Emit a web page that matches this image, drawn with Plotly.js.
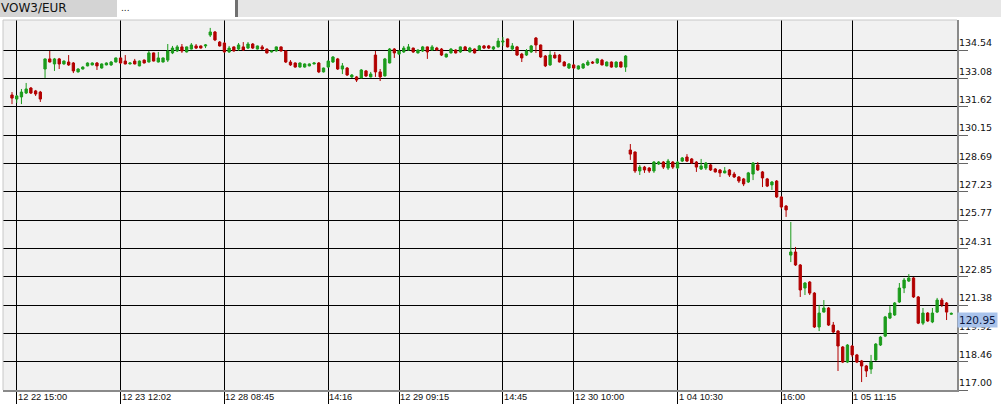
<!DOCTYPE html>
<html>
<head>
<meta charset="utf-8">
<script src="https://cdn.plot.ly/plotly-3.0.1.min.js"></script>
<style>
html,body{margin:0;padding:0;background:#fff;width:1001px;height:415px;overflow:hidden;}
#chart{position:absolute;left:0;top:0;width:1001px;height:415px;}
.hd{position:absolute;top:0;height:17px;}
</style>
</head>
<body>
<div id="chart"></div>
<div class="hd" style="left:0;width:117px;background:#d4d4d4;font:12px 'DejaVu Sans';color:#111;line-height:17px;padding-left:1px;box-sizing:border-box;">VOW3/EUR</div>
<div class="hd" style="left:119px;width:117px;background:#ffffff;font:9px 'DejaVu Sans';color:#222;line-height:17px;padding-left:2px;box-sizing:border-box;">...</div>
<div class="hd" style="left:235px;width:3px;background:#707070;"></div>
<div class="hd" style="left:238px;width:763px;background:#e6e6e6;"></div>
<script>
// ---- data ----
const symbol = "VOW3/EUR";
const openP = [
132.22,132.01,132.12,132.32,132.58,132.43,132.37,133.56,134.08,133.82,
134.08,133.82,133.92,133.87,133.41,133.56,133.72,133.77,133.87,133.61,
133.77,133.77,133.92,134.13,133.97,133.82,133.97,133.72,134.02,133.92,
134.39,133.92,133.92,134.02,134.39,134.49,134.70,134.44,134.59,134.75,
134.75,134.75,135.31,135.47,134.95,134.90,134.44,134.70,134.59,134.70,
134.64,134.85,134.59,134.70,134.59,134.44,134.49,134.70,134.49,133.92,
133.87,133.66,133.66,133.72,133.82,133.87,133.41,133.66,133.92,134.08,
133.56,133.61,133.15,133.15,133.10,133.46,133.15,134.28,133.41,133.20,
133.87,134.59,134.33,134.44,134.54,134.64,134.39,134.49,134.70,134.54,
134.64,134.59,134.18,134.39,134.54,134.44,134.70,134.44,134.59,134.54,
134.75,134.75,134.59,134.70,134.95,135.11,134.59,134.70,134.33,134.28,
134.44,135.16,134.80,134.23,133.77,134.28,134.28,133.92,133.61,133.77,
133.56,133.61,133.77,133.92,133.87,134.02,133.72,133.92,133.66,133.92,
133.66,129.38,129.28,128.30,128.50,128.45,128.30,128.66,128.76,128.45,
128.76,128.45,128.81,129.02,128.92,128.76,128.40,128.45,128.61,128.40,
128.35,128.20,128.35,128.14,127.99,127.89,127.73,128.14,128.61,128.25,
127.89,127.58,127.78,126.96,126.49,123.96,124.12,123.45,122.26,122.57,
122.00,120.25,121.02,121.23,120.35,120.04,119.22,118.44,119.27,118.81,
118.50,118.24,118.08,118.55,119.32,119.78,120.71,120.87,121.54,122.26,
122.62,122.78,121.80,120.45,120.97,120.51,121.02,121.64,121.49,120.91];
const highP = [
132.37,132.22,132.53,132.84,132.63,132.48,132.43,134.10,134.49,134.13,
134.13,134.00,134.28,133.92,133.60,133.70,133.90,133.90,133.92,133.85,
133.90,133.97,134.15,134.15,134.28,133.90,134.08,134.00,134.05,134.49,
134.41,134.44,134.15,134.85,134.75,134.80,134.85,134.72,134.90,134.85,
134.77,134.85,135.68,135.52,135.00,134.95,134.75,134.72,134.90,134.95,
134.95,134.90,134.77,134.80,134.62,134.51,134.72,134.72,134.54,134.02,
133.90,133.90,133.85,133.85,133.90,133.92,133.63,134.00,134.23,134.13,
133.87,133.66,133.30,133.20,133.56,133.51,133.41,134.49,133.56,134.13,
134.64,134.64,134.54,134.75,134.85,134.66,134.57,134.75,134.72,134.80,
134.70,134.64,134.36,134.64,134.57,134.72,134.75,134.70,134.62,134.80,
134.80,134.80,134.75,135.16,135.21,135.13,134.90,134.75,134.39,134.59,
134.80,135.21,134.82,134.28,134.49,134.44,134.33,133.97,133.87,133.82,
133.75,133.87,134.02,133.97,134.10,134.08,133.95,133.95,133.95,133.95,
134.28,129.69,129.30,128.61,128.56,128.50,128.81,128.81,128.81,128.92,
128.81,128.81,129.02,129.17,128.97,128.81,128.92,128.76,128.66,128.45,
128.40,128.50,128.40,128.25,128.04,127.94,128.25,128.76,128.76,128.30,
127.94,127.78,127.83,127.01,126.54,125.67,124.38,123.50,122.57,122.62,
122.05,121.39,121.64,121.28,120.51,120.09,119.27,119.37,119.32,118.86,
118.55,118.29,118.81,119.42,119.78,120.82,121.33,121.54,122.52,122.78,
122.98,122.83,121.85,121.23,121.02,121.23,121.75,121.75,121.54,121.00];
const lowP = [
131.75,131.81,131.75,132.27,132.27,132.17,131.86,133.10,133.90,133.46,
133.56,133.78,133.72,133.35,133.38,133.53,133.70,133.75,133.51,133.58,
133.75,133.72,133.90,133.82,133.80,133.80,133.80,133.70,133.85,133.90,
133.95,133.90,133.90,133.92,134.33,134.44,134.39,134.41,134.57,134.59,
134.62,134.64,135.21,135.00,134.72,134.39,134.39,134.46,134.49,134.49,
134.59,134.59,134.57,134.54,134.36,134.41,134.46,134.46,133.87,133.72,
133.63,133.63,133.63,133.70,133.80,133.35,133.38,133.63,133.87,133.51,
133.30,133.20,133.10,132.89,133.08,133.15,133.13,133.15,132.94,133.18,
133.85,134.13,134.28,134.39,134.49,134.39,134.36,134.44,134.08,134.49,
134.49,134.23,134.15,134.36,134.36,134.39,134.49,134.41,134.36,134.49,
134.59,134.59,134.54,134.67,134.75,134.67,134.49,134.23,133.92,134.23,
134.39,134.39,134.13,133.66,133.72,134.10,133.90,133.70,133.56,133.56,
133.53,133.56,133.72,133.82,133.82,133.75,133.70,133.63,133.63,133.63,
133.41,128.87,128.20,128.09,128.20,128.20,128.20,128.61,128.40,128.35,
128.40,128.40,128.76,128.76,128.66,128.25,128.35,128.35,128.30,128.22,
127.99,128.18,127.99,127.94,127.68,127.52,127.68,127.83,128.30,127.47,
127.47,127.32,126.91,126.34,125.93,123.60,123.40,121.80,121.90,121.90,
120.20,120.04,121.00,120.30,119.94,117.98,118.39,118.39,118.70,118.39,
117.41,117.67,117.83,118.50,119.27,119.73,120.66,120.82,121.49,122.00,
122.57,121.75,120.40,120.35,120.51,120.45,120.97,121.28,120.61,120.88];
const closeP = [
132.06,132.17,132.37,132.53,132.32,132.27,132.01,134.08,133.92,134.08,
133.82,133.97,133.77,133.46,133.56,133.66,133.87,133.87,133.72,133.82,
133.87,133.92,134.13,133.87,133.82,133.87,133.82,133.97,133.87,134.39,
133.97,134.13,134.13,134.49,134.64,134.70,134.49,134.70,134.80,134.64,
134.64,134.80,135.47,135.06,134.75,134.44,134.64,134.49,134.80,134.54,
134.85,134.64,134.75,134.59,134.39,134.49,134.70,134.49,133.92,133.77,
133.66,133.87,133.82,133.82,133.87,133.41,133.61,133.97,134.18,133.56,
133.72,133.25,133.25,132.99,133.51,133.20,133.30,133.41,133.15,134.08,
134.59,134.39,134.49,134.64,134.70,134.44,134.54,134.70,134.44,134.70,
134.54,134.28,134.33,134.59,134.39,134.70,134.54,134.64,134.39,134.75,
134.64,134.64,134.70,135.00,135.00,134.70,134.75,134.28,134.13,134.49,
134.75,134.80,134.18,133.72,134.28,134.13,133.92,133.72,133.82,133.61,
133.72,133.82,133.92,133.87,134.08,133.77,133.92,133.66,133.92,133.66,
134.23,129.17,128.30,128.50,128.35,128.30,128.76,128.76,128.50,128.81,
128.50,128.76,128.97,128.81,128.71,128.50,128.56,128.71,128.35,128.25,
128.20,128.30,128.09,127.99,127.78,127.63,128.20,128.71,128.35,127.94,
127.52,127.73,126.96,126.44,126.29,124.12,123.45,122.16,122.52,122.00,
120.25,120.97,121.23,120.35,119.99,119.27,118.44,119.32,118.81,118.44,
118.24,117.98,118.44,119.37,119.73,120.77,120.97,121.49,122.26,122.67,
122.78,121.80,120.45,120.97,120.56,120.97,121.64,121.39,121.02,120.95];
const barIndex = openP.map((_, i) => i);
const xTickVals = [1, 23, 45, 67, 82, 104, 119, 141, 163, 178];
const xTickText = ["12 22 15:00","12 23 12:02","12 28 08:45","14:16","12 29 09:15","14:45","12 30 10:00","1 04 10:30","16:00","1 05 11:15"];
const yTickVals = [117.00,118.46,119.92,121.38,122.85,124.31,125.77,127.23,128.69,130.15,131.62,133.08,134.54];
const yTickText = ["117.00","118.46","119.92","121.38","122.85","124.31","125.77","127.23","128.69","130.15","131.62","133.08","134.54"];
const lastPrice = 120.95;

// ---- chart ----
const trace = {
  type: 'candlestick',
  x: barIndex,
  open: openP, high: highP, low: lowP, close: closeP,
  increasing: {line: {color: '#1c9c1c', width: 1}, fillcolor: '#1c9c1c'},
  decreasing: {line: {color: '#b20000', width: 1}, fillcolor: '#b20000'},
  whiskerwidth: 0,
  hoverinfo: 'none',
  name: symbol
};

const annotations = xTickVals.map((v, k) => ({
  x: v, xref: 'x', y: 0, yref: 'paper',
  xanchor: 'left', yanchor: 'top', showarrow: false,
  text: xTickText[k], xshift: -1, yshift: 0,
  font: {family: 'Liberation Sans, Arial, sans-serif', size: 9.3, color: '#111'}
}));
annotations.push({
  x: 1, xref: 'paper', y: lastPrice, yref: 'y',
  xanchor: 'left', yanchor: 'middle', showarrow: false,
  text: lastPrice.toFixed(2), yshift: -7, xshift: 0,
  bgcolor: '#a9c3eb', borderpad: 1,
  font: {family: 'DejaVu Sans, sans-serif', size: 10.5, color: '#0a1640'}
});

const layout = {
  width: 1001, height: 415,
  margin: {l: 3, r: 44, t: 20, b: 25, pad: 0},
  paper_bgcolor: 'rgba(0,0,0,0)',
  plot_bgcolor: '#f1f1f1',
  showlegend: false,
  dragmode: false,
  xaxis: {
    type: 'linear',
    range: [-1.907, 200.21],
    rangeslider: {visible: false},
    tickmode: 'array', tickvals: xTickVals, ticktext: xTickText,
    showticklabels: false,
    ticks: 'outside', ticklen: 12, tickcolor: '#000', tickwidth: 1,
    showgrid: true, gridcolor: '#000', gridwidth: 1,
    zeroline: false,
    showline: true, linecolor: '#8a8a8a', linewidth: 2,
    fixedrange: true
  },
  yaxis: {
    side: 'right',
    range: [117.0, 136.088],
    tickmode: 'array', tickvals: yTickVals, ticktext: yTickText,
    ticks: 'outside', ticklen: 9, tickcolor: '#666', tickwidth: 1,
    ticklabelshift: -7, ticklabelstandoff: -11,
    tickfont: {family: 'DejaVu Sans, sans-serif', size: 9.5, color: '#111'},
    showgrid: true, gridcolor: '#000', gridwidth: 1,
    zeroline: false,
    showline: true, linecolor: '#8a8a8a', linewidth: 2,
    fixedrange: true
  },
  shapes: [
    {type: 'line', xref: 'paper', yref: 'paper', x0: 0, x1: 1, y0: 1, y1: 1, line: {color: '#c8c8c8', width: 1}},
    {type: 'line', xref: 'paper', yref: 'paper', x0: 0, x1: 0, y0: 0, y1: 1, line: {color: '#c8c8c8', width: 1}}
  ],
  annotations: annotations
};

Plotly.newPlot('chart', [trace], layout, {displayModeBar: false, staticPlot: true});
</script>
</body>
</html>
